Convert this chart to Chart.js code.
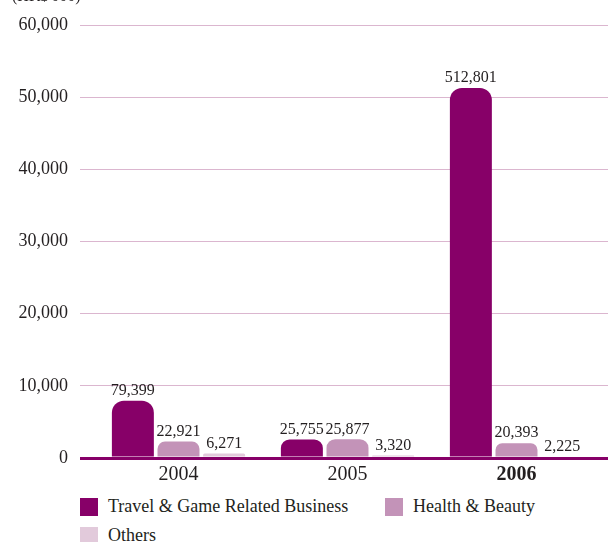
<!DOCTYPE html>
<html>
<head>
<meta charset="utf-8">
<script src="https://cdn.jsdelivr.net/npm/chart.js@4"></script>
<style>
  html, body { margin: 0; padding: 0; background: #fff; }
  #wrap { position: relative; width: 608px; height: 542px; overflow: hidden; }
  #chart { position: absolute; left: 0; top: 0; }
  #legend { position: absolute; left: 80px; top: 496px; width: 528px; font-family: 'Liberation Serif', 'DejaVu Serif', serif; font-size: 18px; color: #231f20; }
  .item { position: absolute; display: flex; align-items: center; white-space: nowrap; }
  .box { width: 18px; height: 18px; margin-right: 10px; }
</style>
</head>
<body>
<div id="wrap">
  <canvas id="chart" width="608" height="496"></canvas>
  <div id="legend"></div>
</div>
<script>
// values in HK$ (axis ticks are shown in HK$'0000 as in the original artwork)
const years = ['2004', '2005', '2006'];
const travelGame = [79399, 25755, 512801];
const healthBeauty = [22921, 25877, 20393];
const others = [6271, 3320, 2225];
const seriesNames = ['Travel & Game Related Business', 'Health & Beauty', 'Others'];
const seriesColors = ['#870068', '#c393b8', '#e2cadb'];
const yTicks = [0, 100000, 200000, 300000, 400000, 500000, 600000];

const serif = "'Liberation Serif', 'DejaVu Serif', serif";
const gridColor = '#dbb6cf';
const axisColor = '#870068';
const fmt = v => v.toLocaleString('en-US');

// grid lines run to the right edge of the page in the original
const gridToEdge = {
    id: 'gridToEdge',
    beforeDatasetsDraw(chart) {
        const ctx = chart.ctx, y = chart.scales.y;
        ctx.save();
        y.ticks.forEach(t => {
            const zero = t.value === 0;
            const w = zero ? 3 : 1;
            const py = Math.round(y.getPixelForValue(t.value) - w / 2) + w / 2;
            ctx.strokeStyle = zero ? axisColor : gridColor;
            ctx.lineWidth = w;
            ctx.beginPath();
            ctx.moveTo(chart.chartArea.right - 1, py);
            ctx.lineTo(chart.width, py);
            ctx.stroke();
        });
        ctx.restore();
    }
};

const valueLabels = {
    id: 'valueLabels',
    afterDatasetsDraw(chart) {
        const ctx = chart.ctx;
        ctx.save();
        ctx.font = '16px ' + serif;
        ctx.fillStyle = '#231f20';
        ctx.textAlign = 'center';
        ctx.textBaseline = 'bottom';
        chart.data.datasets.forEach((ds, i) => {
            chart.getDatasetMeta(i).data.forEach((bar, j) => {
                ctx.fillText(fmt(ds.data[j]), bar.x, bar.y - 2);
            });
        });
        // unit caption, cut off at the top as in the original
        ctx.textAlign = 'left';
        ctx.textBaseline = 'alphabetic';
        ctx.fillText("(HK$'000)", 12, 1);
        ctx.restore();
    }
};

const ctx = document.getElementById('chart').getContext('2d');
new Chart(ctx, {
    type: 'bar',
    data: {
        labels: years,
        datasets: [travelGame, healthBeauty, others].map((d, i) => ({
            label: seriesNames[i],
            data: d,
            backgroundColor: seriesColors[i],
            borderRadius: 12,
            barPercentage: 0.92,
            categoryPercentage: 0.81
        }))
    },
    options: {
        responsive: false,
        animation: false,
        layout: { padding: { top: 25, right: 7, bottom: 4, left: 0 } },
        plugins: {
            legend: { display: false },
            tooltip: { enabled: false }
        },
        scales: {
            x: {
                grid: { display: false, drawTicks: false },
                border: { display: false },
                ticks: {
                    color: '#231f20',
                    padding: 5,
                    font: c => ({ family: serif, size: 20, weight: c.index === 2 ? 'bold' : 'normal' })
                }
            },
            y: {
                min: 0,
                max: 600000,
                afterBuildTicks: s => { s.ticks = yTicks.map(v => ({ value: v })); },
                afterFit: s => { s.width = 94; },
                grid: {
                    color: c => c.tick && c.tick.value === 0 ? axisColor : gridColor,
                    lineWidth: c => c.tick && c.tick.value === 0 ? 3 : 1,
                    tickLength: 14
                },
                border: { display: false },
                ticks: {
                    color: '#231f20',
                    padding: 12,
                    font: { family: serif, size: 18 },
                    callback: v => fmt(v / 10)
                }
            }
        }
    },
    plugins: [gridToEdge, valueLabels]
});

// legend
const legend = document.getElementById('legend');
const pos = [[0, 0], [305, 0], [0, 29]];
seriesNames.forEach((name, i) => {
    const el = document.createElement('div');
    el.className = 'item';
    el.style.left = pos[i][0] + 'px';
    el.style.top = pos[i][1] + 'px';
    el.innerHTML = '<span class="box" style="background:' + seriesColors[i] + '"></span>' + name;
    legend.appendChild(el);
});
</script>
</body>
</html>
